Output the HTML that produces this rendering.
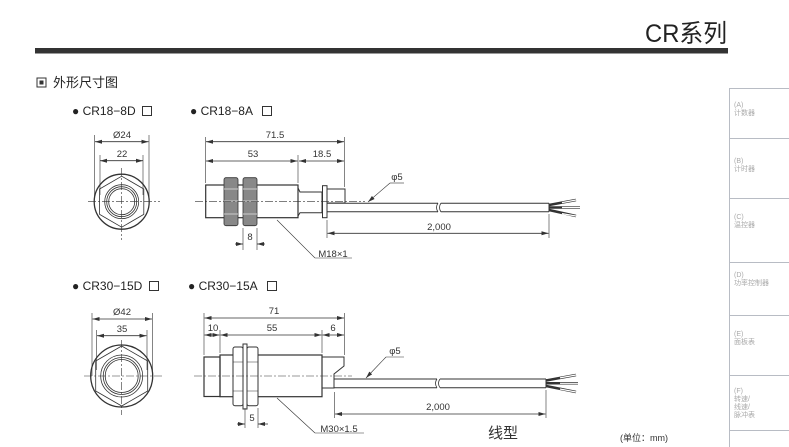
<!DOCTYPE html>
<html><head><meta charset="utf-8"><style>
html,body{margin:0;padding:0;background:#fff;}
svg{display:block}
text{font-family:"Liberation Sans","Noto Sans CJK SC",sans-serif;}
</style></head><body>
<svg width="789" height="447" viewBox="0 0 789 447" xmlns="http://www.w3.org/2000/svg">
<defs>
<marker id="a" markerWidth="8" markerHeight="6" refX="7" refY="3" orient="auto-start-reverse" markerUnits="userSpaceOnUse"><path d="M0,1 L7,3 L0,5z" fill="#333"/></marker>
</defs>
<!-- header -->
<text x="727" y="42" text-anchor="end" font-size="25" fill="#222" textLength="82" lengthAdjust="spacingAndGlyphs">CR系列</text>
<rect x="35" y="48" width="693" height="5.5" fill="#333"/>
<rect x="37" y="78" width="9" height="9" fill="none" stroke="#333" stroke-width="1"/>
<rect x="39.5" y="80.5" width="4" height="4" fill="#333"/>
<text x="53" y="87" font-size="13" fill="#222">外形尺寸图</text>
<!-- sidebar -->
<g stroke="#b8bcc4" stroke-width="1" fill="none">
<path d="M729.5,88 V447"/>
<path d="M729,88.5 H789 M729,138.5 H789 M729,198.5 H789 M729,262.5 H789 M729,315.5 H789 M729,375.5 H789 M729,430.5 H789"/>
</g>
<g font-size="7" fill="#aaa">
<text x="734" y="107">(A)</text><text x="734" y="115">计数器</text>
<text x="734" y="163">(B)</text><text x="734" y="171">计时器</text>
<text x="734" y="219">(C)</text><text x="734" y="227">温控器</text>
<text x="734" y="277">(D)</text><text x="734" y="285">功率控制器</text>
<text x="734" y="336">(E)</text><text x="734" y="344">面板表</text>
<text x="734" y="393">(F)</text><text x="734" y="401">转速/</text><text x="734" y="409">线速/</text><text x="734" y="417">脉冲表</text>
</g>
<!-- titles -->
<g font-size="12" fill="#222">
<text x="72" y="115">● CR18−8D</text>
<text x="190" y="115">● CR18−8A</text>
<text x="72" y="290">● CR30−15D</text>
<text x="188" y="290">● CR30−15A</text>
</g>
<g fill="none" stroke="#333" stroke-width="1">
<rect x="142.5" y="106.5" width="9" height="9"/>
<rect x="262.5" y="106.5" width="9" height="9"/>
<rect x="149.5" y="281.5" width="9" height="9"/>
<rect x="267.5" y="281.5" width="9" height="9"/>
</g>
<g stroke="#333" fill="none" stroke-width="0.8">
<!-- ===== TOP front view ===== -->
<circle cx="121.7" cy="201.7" r="27.5" stroke-width="1.3"/>
<polygon points="121.7,176.2 143.8,189 143.8,214.4 121.7,227.2 99.6,214.4 99.6,189" stroke-width="0.8"/>
<circle cx="121.7" cy="201.7" r="17"/>
<circle cx="121.7" cy="201.7" r="15"/>
<circle cx="121.7" cy="201.7" r="13"/>
<path d="M88,201.7 H160 M121.7,168 V240" stroke-dasharray="8,2,2,2" stroke-width="0.6"/>
<path d="M94.5,135 V200 M149,135 V200 M100,155 V195 M143,155 V195" stroke-width="0.6"/>
<path d="M95,141.7 H148.5" marker-start="url(#a)" marker-end="url(#a)"/>
<path d="M100,160.7 H143" marker-start="url(#a)" marker-end="url(#a)"/>
<!-- TOP side view -->
<rect x="205.7" y="185" width="92.3" height="32.7" stroke-width="1.2"/>
<rect x="224" y="177.7" width="14" height="48" rx="2" fill="#888" stroke="#333"/>
<rect x="243" y="177.7" width="14" height="48" rx="2" fill="#888" stroke="#333"/>
<path d="M224,189 H238 M224,214 H238 M243,189 H257 M243,214 H257 M224,201 H238 M243,201 H257" stroke="#ccc" stroke-width="1"/>
<path d="M298,188 L300,192 H322 V212.7 H300 L298,216" stroke-width="1"/>
<rect x="322.5" y="185.7" width="4.5" height="32" stroke-width="1"/>
<rect x="327" y="189" width="18" height="14" stroke-width="1"/>
<path d="M327,203.3 H438 M441,203.3 H549 M327,211.7 H438 M441,211.7 H549 M549,203.3 V211.7" stroke-width="1"/>
<path d="M438,203 Q435,207.5 438,212 M441,203 Q438,207.5 441,212" stroke-width="0.8"/>
<path d="M549,205 L576,200 M549,207.5 L580,207.5 M549,210 L576,216" stroke-width="2.5"/>
<path d="M562,202.6 L576,200 M562,207.5 L580,207.5 M562,213.6 L576,216" stroke="#fff" stroke-width="1.2"/>
<path d="M195,201.7 H365" stroke-dasharray="8,2,2,2" stroke-width="0.6"/>
<path d="M205.7,137 V183 M298,155 V183 M344.5,137 V187 M327,220 V238 M549,214 V238 M243,228 V250 M257,228 V250" stroke-width="0.6"/>
<path d="M206,141.7 H344" marker-start="url(#a)" marker-end="url(#a)"/>
<path d="M206,161 H297.5" marker-start="url(#a)" marker-end="url(#a)"/>
<path d="M299,161 H344" marker-start="url(#a)" marker-end="url(#a)"/>
<path d="M327.5,233.3 H548.5" marker-start="url(#a)" marker-end="url(#a)"/>
<path d="M235,244 H243" marker-end="url(#a)"/>
<path d="M265,244 H257" marker-end="url(#a)"/>
<path d="M315,258 L277,220 M315,258 H352" stroke-width="0.6"/>
<path d="M390,183 L368,202" marker-end="url(#a)" stroke-width="0.6"/>
<path d="M390,183 H404" stroke-width="0.6"/>
<!-- ===== BOTTOM front view ===== -->
<circle cx="121.7" cy="376" r="31" stroke-width="1.3"/>
<polygon points="121.7,346 147.7,361 147.7,391 121.7,406 95.7,391 95.7,361"/>
<circle cx="121.7" cy="376" r="21"/>
<circle cx="121.7" cy="376" r="18.5"/>
<circle cx="121.7" cy="376" r="16.5"/>
<path d="M84,376 H162 M121.7,340 V415" stroke-dasharray="8,2,2,2" stroke-width="0.6"/>
<path d="M92,313 V376 M152.5,313 V376 M96.5,330 V370 M147,330 V370" stroke-width="0.6"/>
<path d="M92.5,319 H152" marker-start="url(#a)" marker-end="url(#a)"/>
<path d="M97,335.7 H146.5" marker-start="url(#a)" marker-end="url(#a)"/>
<!-- BOTTOM side view -->
<rect x="204" y="357" width="16" height="39.5" stroke-width="1.2"/>
<rect x="220" y="355" width="102" height="41.7" stroke-width="1.2"/>
<rect x="233" y="347" width="10" height="58.7" rx="2" fill="#fff" stroke-width="1"/>
<rect x="243" y="344" width="4" height="65" fill="#fff" stroke-width="1"/>
<rect x="247" y="347" width="11" height="58.7" rx="2" fill="#fff" stroke-width="1"/>
<path d="M233,362 H243 M233,391 H243 M247,362 H258 M247,391 H258" stroke-width="0.6"/>
<path d="M322,357 H344 V366 L334,374 V388 H322" stroke-width="1"/>
<path d="M334,379 H437 M440,379 H546 M334,387.7 H437 M440,387.7 H546 M546,379 V387.7" stroke-width="1"/>
<path d="M437,379 Q434,383.3 437,387.7 M440,379 Q437,383.3 440,387.7" stroke-width="0.8"/>
<path d="M546,380.5 L576,375 M546,383.3 L578,383.3 M546,386 L576,392" stroke-width="2.5"/>
<path d="M560,377.9 L576,375 M560,383.3 L578,383.3 M560,389 L576,392" stroke="#fff" stroke-width="1.2"/>
<path d="M194,376 H352" stroke-dasharray="8,2,2,2" stroke-width="0.6"/>
<path d="M204,313 V355 M220,330 V353 M322,330 V353 M344.5,313 V355 M334.5,392 V418 M546,390 V418 M245,408 V428 M258,408 V428" stroke-width="0.6"/>
<path d="M204.5,318 H344" marker-start="url(#a)" marker-end="url(#a)"/>
<path d="M204.5,335 H219.5" marker-start="url(#a)" marker-end="url(#a)"/>
<path d="M220.5,335 H321.5" marker-start="url(#a)" marker-end="url(#a)"/>
<path d="M322.5,335 H344" marker-start="url(#a)" marker-end="url(#a)"/>
<path d="M335,414 H545.5" marker-start="url(#a)" marker-end="url(#a)"/>
<path d="M237,424 H245" marker-end="url(#a)"/>
<path d="M268,424 H258" marker-end="url(#a)"/>
<path d="M315,433 L277,398 M315,433 H364" stroke-width="0.6"/>
<path d="M386,357 L366,378" marker-end="url(#a)" stroke-width="0.6"/>
<path d="M386,357 H404" stroke-width="0.6"/>
</g>
<!-- dimension labels -->
<g font-size="9.5" fill="#333" text-anchor="middle">
<text x="122" y="138">Ø24</text>
<text x="122" y="157">22</text>
<text x="275" y="138">71.5</text>
<text x="253" y="157">53</text>
<text x="322" y="157">18.5</text>
<text x="250" y="240">8</text>
<text x="333" y="257">M18×1</text>
<text x="397" y="180">φ5</text>
<text x="439" y="230">2,000</text>
<text x="122" y="315">Ø42</text>
<text x="122" y="332">35</text>
<text x="274" y="314">71</text>
<text x="213" y="331">10</text>
<text x="272" y="331">55</text>
<text x="333" y="331">6</text>
<text x="252" y="421">5</text>
<text x="339" y="432">M30×1.5</text>
<text x="395" y="354">φ5</text>
<text x="438" y="410">2,000</text>
</g>
<text x="488" y="438" font-size="15" fill="#333" font-family="'Noto Serif CJK SC',serif">线型</text>
<text x="620" y="441" font-size="9" fill="#333" font-family="'Noto Serif CJK SC',serif">(单位：mm)</text>
</svg>
</body></html>
